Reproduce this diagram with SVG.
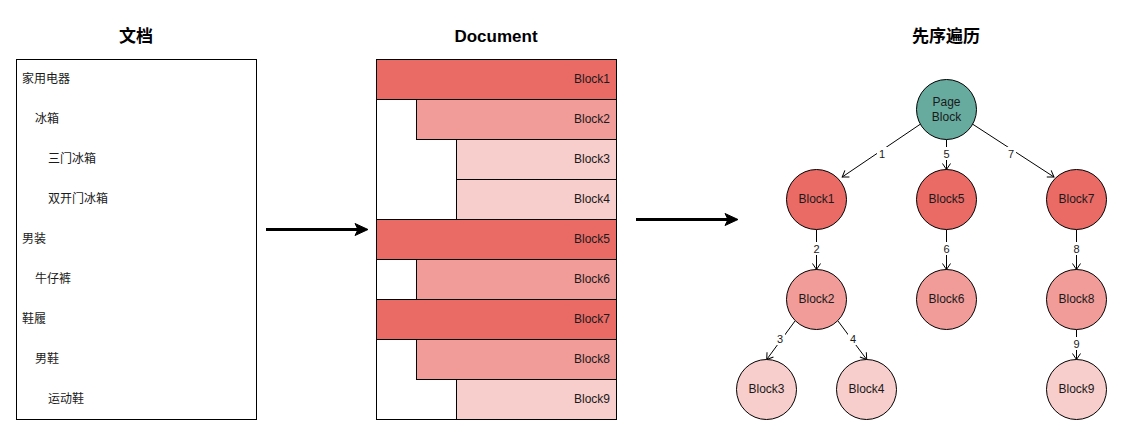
<svg xmlns="http://www.w3.org/2000/svg" width="1123" height="436" viewBox="0 0 1123 436">
<style>
text{font-family:"Liberation Sans","Noto Sans CJK SC",Arial,sans-serif;font-size:12px;fill:#1a1a1a}
.title{font-size:17px;font-weight:bold;fill:#000}
.b{stroke:#000;stroke-width:1}
.c1{fill:#EA6B66}
.c2{fill:#F19C99}
.c3{fill:#F8CECC}
.root{fill:#67AB9F}
.r{text-anchor:end}
.m{text-anchor:middle}
.lbl{font-size:11px;text-anchor:middle;fill:#1a1a1a}
.e{stroke:#000;stroke-width:1;fill:none;marker-end:url(#open)}
.lb{fill:#fff}
</style>
<defs>
<marker id="open" markerUnits="userSpaceOnUse" markerWidth="12" markerHeight="12" refX="9" refY="6" orient="auto" viewBox="0 0 12 12">
<path d="M3,2 L9,6 L3,10" fill="none" stroke="#000" stroke-width="1"/>
</marker>
</defs>
<rect width="1123" height="436" fill="#fff"/>

<g id="doc-cn">
<text class="title m" x="136" y="42">文档</text>
<rect class="b" x="16.5" y="59.5" width="240" height="360" fill="#fff"/>
<text x="22" y="83">家用电器</text>
<text x="35" y="123">冰箱</text>
<text x="48" y="163">三门冰箱</text>
<text x="48" y="203">双开门冰箱</text>
<text x="22" y="243">男装</text>
<text x="35" y="283">牛仔裤</text>
<text x="22" y="323">鞋履</text>
<text x="35" y="363">男鞋</text>
<text x="48" y="403">运动鞋</text>
</g>

<g id="doc-blocks">
<text class="title m" x="496" y="42">Document</text>
<rect class="b" x="376.5" y="59.5" width="240" height="360" fill="#fff"/>
<rect class="b c1" x="376.5" y="59.5" width="240" height="40"/>
<rect class="b c2" x="416.5" y="99.5" width="200" height="40"/>
<rect class="b c3" x="456.5" y="139.5" width="160" height="40"/>
<rect class="b c3" x="456.5" y="179.5" width="160" height="40"/>
<rect class="b c1" x="376.5" y="219.5" width="240" height="40"/>
<rect class="b c2" x="416.5" y="259.5" width="200" height="40"/>
<rect class="b c1" x="376.5" y="299.5" width="240" height="40"/>
<rect class="b c2" x="416.5" y="339.5" width="200" height="40"/>
<rect class="b c3" x="456.5" y="379.5" width="160" height="40"/>
<text class="r" x="610" y="83">Block1</text>
<text class="r" x="610" y="123">Block2</text>
<text class="r" x="610" y="163">Block3</text>
<text class="r" x="610" y="203">Block4</text>
<text class="r" x="610" y="243">Block5</text>
<text class="r" x="610" y="283">Block6</text>
<text class="r" x="610" y="323">Block7</text>
<text class="r" x="610" y="363">Block8</text>
<text class="r" x="610" y="403">Block9</text>
</g>

<g id="big-arrows">
<line x1="266" y1="229.5" x2="358" y2="229.5" stroke="#000" stroke-width="3"/>
<polygon points="368,229.5 355,223.5 358,229.5 355,235.5" fill="#000" stroke="#000" stroke-width="1"/>
<line x1="636" y1="219.5" x2="728" y2="219.5" stroke="#000" stroke-width="3"/>
<polygon points="738,219.5 725,213.5 728,219.5 725,225.5" fill="#000" stroke="#000" stroke-width="1"/>
</g>

<text class="title m" x="946" y="42">先序遍历</text>

<g id="connectors">
<line class="e" x1="920.3" y1="124.2" x2="842.2" y2="177"/>
<line class="e" x1="946.5" y1="139.5" x2="946.5" y2="169.5"/>
<line class="e" x1="972.7" y1="124.2" x2="1054" y2="177"/>
<line class="e" x1="816.5" y1="229.5" x2="816.5" y2="269.5"/>
<line class="e" x1="946.5" y1="229.5" x2="946.5" y2="269.5"/>
<line class="e" x1="1076.5" y1="229.5" x2="1076.5" y2="269.5"/>
<line class="e" x1="795" y1="321" x2="766.7" y2="359.5"/>
<line class="e" x1="838" y1="321" x2="866.7" y2="359.5"/>
<line class="e" x1="1076.5" y1="329.5" x2="1076.5" y2="359.5"/>
<rect class="lb" x="877" y="147" width="10" height="13"/>
<rect class="lb" x="941.5" y="147" width="10" height="13"/>
<rect class="lb" x="1006" y="147" width="10" height="13"/>
<rect class="lb" x="811.5" y="242" width="10" height="13"/>
<rect class="lb" x="941.5" y="242" width="10" height="13"/>
<rect class="lb" x="1071.5" y="242" width="10" height="13"/>
<rect class="lb" x="775" y="332" width="10" height="13"/>
<rect class="lb" x="848" y="332" width="10" height="13"/>
<rect class="lb" x="1071.5" y="337" width="10" height="13"/>
<text class="lbl" x="882" y="158">1</text>
<text class="lbl" x="946.5" y="158">5</text>
<text class="lbl" x="1011" y="158">7</text>
<text class="lbl" x="816.5" y="253">2</text>
<text class="lbl" x="946.5" y="253">6</text>
<text class="lbl" x="1076.5" y="253">8</text>
<text class="lbl" x="780" y="343">3</text>
<text class="lbl" x="853" y="343">4</text>
<text class="lbl" x="1076.5" y="348">9</text>
</g>

<g id="page-block"><circle class="b root" cx="946.5" cy="109.5" r="30"/><text class="m" x="946.5" y="105.5">Page</text><text class="m" x="946.5" y="120.5">Block</text></g>
<g id="n-block1"><circle class="b c1" cx="816.5" cy="199.5" r="30"/><text class="m" x="816.5" y="203">Block1</text></g>
<g id="n-block5"><circle class="b c1" cx="946.5" cy="199.5" r="30"/><text class="m" x="946.5" y="203">Block5</text></g>
<g id="n-block7"><circle class="b c1" cx="1076.5" cy="199.5" r="30"/><text class="m" x="1076.5" y="203">Block7</text></g>
<g id="n-block2"><circle class="b c2" cx="816.5" cy="299.5" r="30"/><text class="m" x="816.5" y="303">Block2</text></g>
<g id="n-block6"><circle class="b c2" cx="946.5" cy="299.5" r="30"/><text class="m" x="946.5" y="303">Block6</text></g>
<g id="n-block8"><circle class="b c2" cx="1076.5" cy="299.5" r="30"/><text class="m" x="1076.5" y="303">Block8</text></g>
<g id="n-block3"><circle class="b c3" cx="766.5" cy="389.5" r="30"/><text class="m" x="766.5" y="393">Block3</text></g>
<g id="n-block4"><circle class="b c3" cx="866.5" cy="389.5" r="30"/><text class="m" x="866.5" y="393">Block4</text></g>
<g id="n-block9"><circle class="b c3" cx="1076.5" cy="389.5" r="30"/><text class="m" x="1076.5" y="393">Block9</text></g>
</svg>
